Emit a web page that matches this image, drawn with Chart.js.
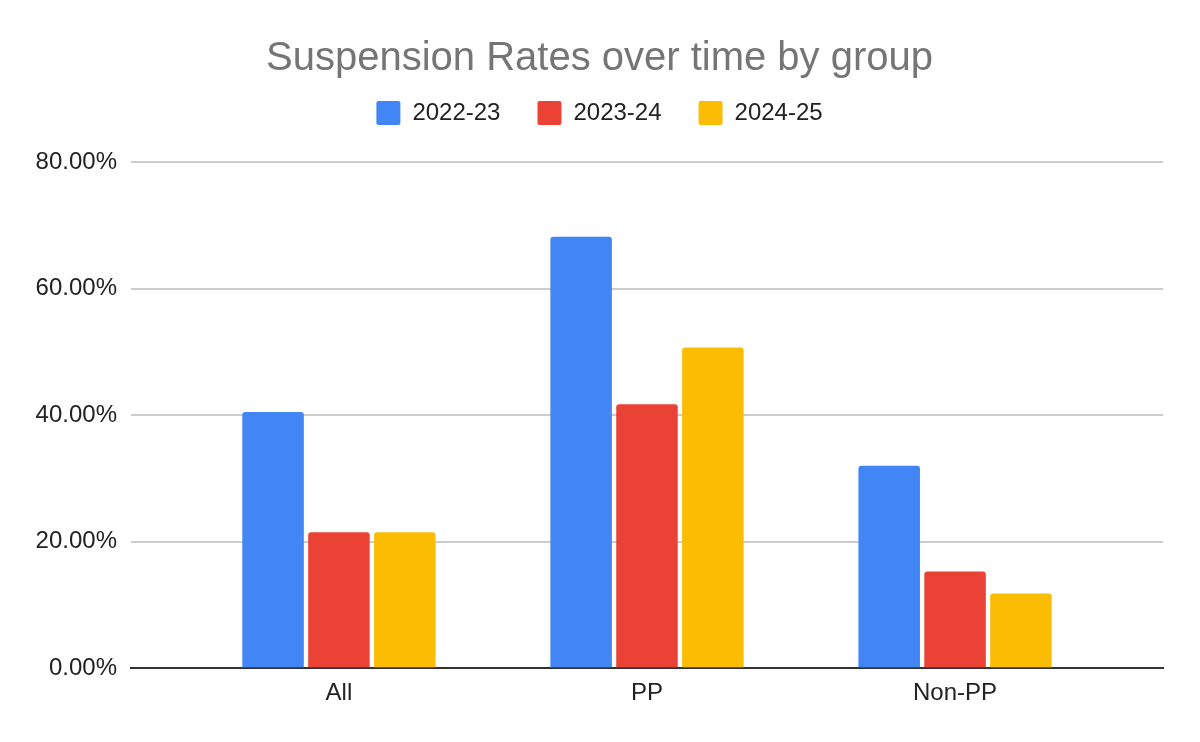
<!DOCTYPE html>
<html>
<head>
<meta charset="utf-8">
<script src="https://cdn.jsdelivr.net/npm/chart.js@4/dist/chart.umd.min.js"></script>
<style>
    html, body { margin: 0; padding: 0; background: #fff; }
    #wrap { width: 1200px; height: 742px; }
</style>
</head>
<body>
<div id="wrap"><canvas id="chart_suspensoes"></canvas></div>
<script>
// dados
var grupos = ["All", "PP", "Non-PP"];
var anos = ["2022-23", "2023-24", "2024-25"];
var taxas2223 = [0.405, 0.682, 0.320];
var taxas2324 = [0.215, 0.417, 0.153];
var taxas2425 = [0.215, 0.507, 0.118];
var ticksY = [0, 0.2, 0.4, 0.6, 0.8];
var cores = ["#4285F4", "#EA4335", "#FBBC04"];

Chart.defaults.font.family = "'Liberation Sans', Arial, sans-serif";

function pontos(valores) {
    return valores.map(function (v, i) { return { x: i, y: v }; });
}

var series = [taxas2223, taxas2324, taxas2425];
var datasets = [];
for (let i = 0; i < series.length; i++) {
    datasets.push({
        label: anos[i],
        data: pontos(series[i]),
        backgroundColor: cores[i],
        borderRadius: 3,
        categoryPercentage: 0.6415,
        barPercentage: 0.934
    });
}

// espaco extra abaixo da legenda
const espacoLegenda = {
    id: 'espacoLegenda',
    beforeInit(chart) {
        const fitOriginal = chart.legend.fit;
        chart.legend.fit = function () {
            fitOriginal.bind(chart.legend)();
            this.height += 27;
        };
    }
};

const config = {
    type: 'bar',
    data: { datasets: datasets },
    options: {
        responsive: true,
        maintainAspectRatio: false,
        animation: false,
        layout: { padding: { top: 10, left: 36, right: 37, bottom: 23 } },
        plugins: {
            title: {
                display: true,
                text: 'Suspension Rates over time by group',
                color: '#757575',
                font: { size: 40, weight: 'normal', lineHeight: '10px' },
                padding: { top: 44, bottom: 0 }
            },
            legend: {
                display: true,
                labels: {
                    color: '#222222',
                    font: { size: 24 },
                    boxWidth: 24,
                    boxHeight: 24,
                    padding: 37,
                    useBorderRadius: true,
                    borderRadius: 2
                }
            },
            tooltip: { enabled: false }
        },
        scales: {
            x: {
                type: 'linear',
                offset: false,
                min: -0.675,
                max: 2.675,
                grid: { display: false, drawTicks: false },
                border: { display: true, color: '#333333', width: 2 },
                afterBuildTicks: function (scale) {
                    scale.ticks = grupos.map(function (g, i) { return { value: i }; });
                },
                afterFit: function (scale) {
                    scale.paddingLeft = 0;
                    scale.paddingRight = 0;
                },
                ticks: {
                    autoSkip: false,
                    maxRotation: 0,
                    color: '#222222',
                    font: { size: 24 },
                    padding: 11,
                    callback: function (value) { return grupos[value]; }
                }
            },
            y: {
                min: 0,
                max: 0.8,
                afterBuildTicks: function (scale) {
                    scale.ticks = ticksY.map(function (v) { return { value: v }; });
                },
                afterFit: function (scale) {
                    scale.width = 95;
                },
                grid: { color: '#cccccc', lineWidth: 2, drawTicks: false },
                border: { display: false },
                ticks: {
                    color: '#222222',
                    font: { size: 24 },
                    padding: 14,
                    callback: function (value) { return (value * 100).toFixed(2) + '%'; }
                }
            }
        }
    },
    plugins: [espacoLegenda]
};

let myChart = new Chart(
    document.getElementById('chart_suspensoes'),
    config,
);
</script>
</body>
</html>
